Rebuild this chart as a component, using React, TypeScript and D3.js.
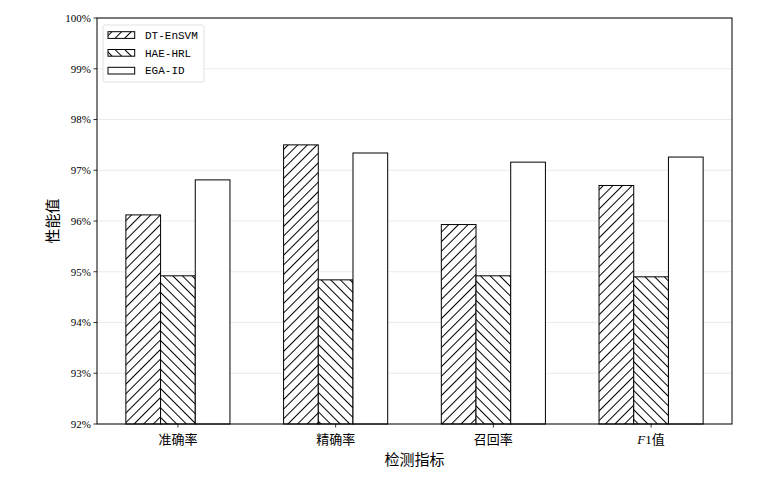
import * as d3 from 'd3';

const categories = ['准确率', '精确率', '召回率', 'F1值'];
const seriesNames = ['DT-EnSVM', 'HAE-HRL', 'EGA-ID'];
const dtEnSVM = [96.12, 97.5, 95.93, 96.7];
const haeHRL = [94.92, 94.84, 94.92, 94.9];
const egaID = [96.81, 97.34, 97.16, 97.26];
const yTicks = [92, 93, 94, 95, 96, 97, 98, 99, 100];

const SERIES = [dtEnSVM, haeHRL, egaID];
const FILLS = ['url(#hatchNE)', 'url(#hatchNW)', '#ffffff'];

const W = 769;
const H = 478;
const margin = { top: 18, right: 37, bottom: 54, left: 97 };
const BAR_W = 0.22;
const HATCH = 6.8;

const CJK = '"Noto Sans CJK SC", sans-serif';
const NUM = '"Liberation Serif", "DejaVu Serif", serif';
const LEG = '"Liberation Mono", "DejaVu Sans Mono", monospace';

export default function App() {
  const innerW = W - margin.left - margin.right;
  const innerH = H - margin.top - margin.bottom;

  const lo = -1.5 * BAR_W;
  const hi = categories.length - 1 + 1.5 * BAR_W;
  const pad = (hi - lo) * 0.05;
  const x = d3.scaleLinear().domain([lo - pad, hi + pad]).range([0, innerW]);
  const y = d3.scaleLinear().domain([92, 100]).range([innerH, 0]);
  const bw = x(BAR_W) - x(0);

  return (
    <div style={{ position: 'fixed', left: 0, top: 0 }}>
      <svg width={W} height={H} style={{ display: 'block', background: '#fff' }}>
        <defs>
          <pattern id="hatchNE" patternUnits="userSpaceOnUse" width={HATCH} height={HATCH} patternTransform="rotate(45)">
            <rect width={HATCH} height={HATCH} fill="#fff" />
            <line x1={0.5} y1={0} x2={0.5} y2={HATCH} stroke="#000" strokeWidth={1} />
          </pattern>
          <pattern id="hatchNW" patternUnits="userSpaceOnUse" width={HATCH} height={HATCH} patternTransform="rotate(-45)">
            <rect width={HATCH} height={HATCH} fill="#fff" />
            <line x1={0.5} y1={0} x2={0.5} y2={HATCH} stroke="#000" strokeWidth={1} />
          </pattern>
        </defs>
        <g transform={`translate(${margin.left},${margin.top})`}>
          {/* grid */}
          {yTicks.map((t) => (
            <line key={t} x1={0} x2={innerW} y1={y(t)} y2={y(t)} stroke="#e6e6e6" strokeWidth={0.8} />
          ))}
          {/* bars */}
          {SERIES.map((vals, si) =>
            vals.map((v, ci) => {
              const cx = ci + (si - 1) * BAR_W;
              const x0 = x(cx) - bw / 2;
              return (
                <rect
                  key={`${si}-${ci}`}
                  x={x0}
                  y={y(v)}
                  width={bw}
                  height={innerH - y(v)}
                  fill={FILLS[si]}
                  stroke="#000"
                  strokeWidth={1}
                />
              );
            })
          )}
          {/* frame */}
          <rect x={0} y={0} width={innerW} height={innerH} fill="none" stroke="#000" strokeWidth={1} />
          {/* y ticks */}
          {yTicks.map((t) => (
            <g key={t} transform={`translate(0,${y(t)})`}>
              <line x1={-3.5} x2={0} stroke="#000" strokeWidth={0.8} />
              <text x={-6} dy="0.35em" textAnchor="end" fontFamily={NUM} fontSize={11} fill="#000">
                {t}%
              </text>
            </g>
          ))}
          {/* x ticks */}
          {categories.map((c, i) => (
            <g key={c} transform={`translate(${x(i)},${innerH})`}>
              <line y1={0} y2={3.5} stroke="#000" strokeWidth={0.8} />
              <text y={20} textAnchor="middle" fontFamily={CJK} fontSize={13} fill="#000">
                {c === 'F1值' ? (
                  <>
                    <tspan fontFamily={NUM} fontStyle="italic">F</tspan>
                    <tspan fontFamily={NUM}>1</tspan>
                    <tspan>值</tspan>
                  </>
                ) : (
                  c
                )}
              </text>
            </g>
          ))}
          {/* legend */}
          <g transform="translate(6,7)">
            <rect x={0} y={0} width={101} height={57} rx={2} fill="#fff" fillOpacity={0.85} stroke="#d9d9d9" strokeWidth={0.8} />
            {seriesNames.map((n, i) => (
              <g key={n} transform={`translate(5,${10 + i * 17.8})`}>
                <rect x={0} y={-3.3} width={26.7} height={6.7} fill={FILLS[i]} stroke="#000" strokeWidth={1} />
                <text x={37} dy="0.35em" fontFamily={LEG} fontSize={11} fill="#000">
                  {n}
                </text>
              </g>
            ))}
          </g>
        </g>
        {/* axis labels */}
        <text x={margin.left + innerW / 2} y={465} textAnchor="middle" fontFamily={CJK} fontSize={15} fill="#000">
          检测指标
        </text>
        <text
          transform={`translate(58,${margin.top + innerH / 2}) rotate(-90)`}
          textAnchor="middle"
          fontFamily={CJK}
          fontSize={15}
          fill="#000"
        >
          性能值
        </text>
      </svg>
    </div>
  );
}
